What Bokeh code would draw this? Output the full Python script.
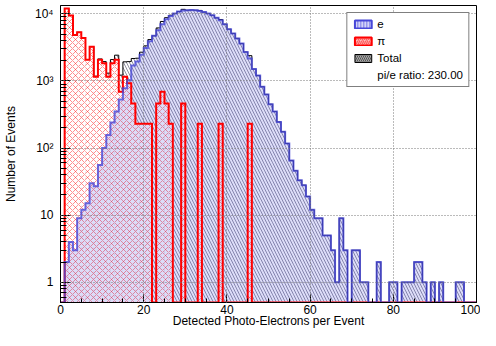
import numpy as np
from bokeh.plotting import figure
from bokeh.models import (ColumnDataSource, FixedTicker, Legend, LegendItem, Range1d)
from bokeh.embed import file_html
from bokeh.resources import INLINE

# ---------------- data ----------------
bin_edges = list(range(0, 101))          # 100 bins of width 1 p.e.

e_counts = [
    0, 2, 4, 3, 9, 12, 15, 30, 27, 56,
    100, 156, 240, 350, 530, 775, 1020, 1700, 1950, 2450,
    3100, 3900, 4700, 5700, 7000, 8300, 9300, 10100, 10800, 11200,
    11300, 11400, 11300, 11000, 10600, 10100, 9500, 8700, 8000, 7000,
    5900, 5100, 4300, 3600, 2700, 2150, 1500, 1200, 820, 630,
    450, 350, 245, 175, 117, 65, 46, 33, 28, 19,
    12, 9, 9, 5, 5, 3, 1, 9, 3, 0,
    3, 3, 1, 1, 0, 0, 2, 0, 0, 1,
    1, 0, 1, 1, 1, 2, 2, 1, 0, 1,
    0, 1, 0, 0, 0, 1, 1, 0, 0, 0,
]

pi_counts = [
    0, 11960, 9430, 4830, 5290, 4370, 2070, 3220, 1150, 2070,
    1840, 1150, 1840, 2070, 690, 1150, 920, 460, 230, 230,
    230, 230, 0, 460, 690, 460, 230, 0, 0, 460,
    0, 0, 0, 230, 0, 0, 0, 0, 230, 0,
    0, 0, 0, 0, 0, 230, 0, 0, 0, 0,
    0, 0, 0, 0, 0, 0, 0, 0, 0, 0,
    0, 0, 0, 0, 0, 0, 0, 0, 0, 0,
    0, 0, 0, 0, 0, 0, 0, 0, 0, 0,
    0, 0, 0, 0, 0, 0, 0, 0, 0, 0,
    0, 0, 0, 0, 0, 0, 0, 0, 0, 0,
]

pi_e_ratio = 230.00
legend_labels = ["e", "\u03c0", "Total", f"pi/e ratio: {pi_e_ratio:.2f}"]

x_tick_values = [0, 20, 40, 60, 80, 100]
y_tick_values = [1, 10, 100, 1000, 10000]
y_tick_labels = ["1", "10", "10\u00b2", "10\u00b3", "10\u2074"]

x_title = "Detected Photo-Electrons per Event"
y_title = "Number of Events"

# ---------------- figure ----------------
FONT = "Liberation Sans"
Y_LO, Y_HI = 0.5, 13300

p = figure(width=480, height=330, output_backend="svg", toolbar_location=None,
           x_range=Range1d(0, 100), y_range=Range1d(Y_LO, Y_HI), y_axis_type="log",
           min_border_left=54, min_border_right=4, min_border_top=5,
           min_border_bottom=0)
p.background_fill_color = "white"
p.border_fill_color = "white"
p.outline_line_color = "black"
p.outline_line_width = 1

edges = np.array(bin_edges, dtype=float)
e = np.array(e_counts, dtype=float)
pi = np.array(pi_counts, dtype=float)
tot = e + pi


def quads(vals):
    m = vals > 0
    return ColumnDataSource(dict(left=edges[:-1][m], right=edges[1:][m],
                                 top=vals[m], bottom=np.full(int(m.sum()), Y_LO)))


def outline(vals):
    v = np.where(vals > 0, vals, Y_LO)
    xs = np.repeat(edges, 2)
    ys = np.concatenate([[Y_LO], np.repeat(v, 2), [Y_LO]])
    return xs, ys


# Total (drawn first)
p.quad(left="left", right="right", top="top", bottom="bottom", source=quads(tot),
       fill_alpha=0, line_alpha=0, hatch_pattern="\\", hatch_color="#202040",
       hatch_alpha=0.5, hatch_scale=6, hatch_weight=1)
xt, yt = outline(tot)
p.line(xt, yt, line_color="black", line_width=1, line_join="miter")

# pi
p.quad(left="left", right="right", top="top", bottom="bottom", source=quads(pi),
       fill_color="white", fill_alpha=1, line_alpha=0, hatch_pattern="x",
       hatch_color="#ff2020", hatch_alpha=0.5, hatch_scale=6, hatch_weight=1)

# e
p.quad(left="left", right="right", top="top", bottom="bottom", source=quads(e),
       fill_color="#6060e0", fill_alpha=0.22, line_alpha=0)

xp, yp = outline(pi)
p.line(xp, yp, line_color="#ff0000", line_width=2, line_join="miter")
xe, ye = outline(e)
p.line(xe, ye, line_color="#4646d8", line_width=2, line_alpha=0.8, line_join="miter")

# ---------------- axes ----------------
p.xaxis.ticker = FixedTicker(ticks=x_tick_values, minor_ticks=list(range(0, 101, 5)))
p.yaxis.ticker = FixedTicker(
    ticks=y_tick_values,
    minor_ticks=[m * 10.0 ** k for k in range(-1, 5) for m in range(2, 10)
                 if Y_LO <= m * 10.0 ** k <= Y_HI])
p.yaxis.major_label_overrides = dict(zip(y_tick_values, y_tick_labels))

for ax in (p.xaxis[0], p.yaxis[0]):
    ax.axis_line_color = "black"
    ax.major_tick_line_color = "black"
    ax.minor_tick_line_color = "black"
    ax.major_tick_out = 0
    ax.minor_tick_out = 0
    ax.major_label_text_font = FONT
    ax.major_label_text_font_size = "12px"
    ax.major_label_text_color = "black"
    ax.axis_label_text_font = FONT
    ax.axis_label_text_font_size = "12px"
    ax.axis_label_text_font_style = "normal"
    ax.axis_label_text_color = "black"

p.xaxis.major_tick_in = 8
p.xaxis.minor_tick_in = 4
p.yaxis.major_tick_in = 10
p.yaxis.minor_tick_in = 6
p.xaxis.major_label_standoff = 2
p.yaxis.major_label_standoff = 7
p.xaxis.axis_label = x_title
p.yaxis.axis_label = y_title
p.xaxis.axis_label_standoff = -3
p.yaxis.axis_label_standoff = 14

for g in (p.xgrid[0], p.ygrid[0]):
    g.grid_line_color = "#777777"
    g.grid_line_dash = "1 2"
    g.grid_line_width = 1
    g.level = "guide"
p.ygrid.minor_grid_line_color = None

# ---------------- legend (swatch-only renderers, nothing drawn in the plot) ----------------
nan_src = lambda: ColumnDataSource(dict(left=[np.nan], right=[np.nan],
                                        top=[np.nan], bottom=[np.nan]))
r_e = p.quad(left="left", right="right", top="top", bottom="bottom",
             source=nan_src(), fill_color="#c0c0f4", fill_alpha=0.7,
             line_color="#4646d8", line_width=2, hatch_pattern="|",
             hatch_color="#5050e0", hatch_alpha=0.7, hatch_scale=3, hatch_weight=1)
r_pi = p.quad(left="left", right="right", top="top", bottom="bottom",
              source=nan_src(), fill_color="#ffc0c0", fill_alpha=0.6,
              line_color="#ff0000", line_width=2, hatch_pattern="/",
              hatch_color="#ff2020", hatch_scale=4, hatch_weight=1)
r_t = p.quad(left="left", right="right", top="top", bottom="bottom",
             source=nan_src(), fill_alpha=0, line_color="black",
             line_width=1, hatch_pattern="\\", hatch_color="black", hatch_scale=4,
             hatch_weight=1)
r_txt = p.quad(left="left", right="right", top="top", bottom="bottom",
               source=nan_src(), fill_alpha=0, line_alpha=0)

legend = Legend(items=[LegendItem(label=lab, renderers=[r])
                       for lab, r in zip(legend_labels, [r_e, r_pi, r_t, r_txt])],
                location="top_right", orientation="vertical")
legend.label_text_font = FONT
legend.label_text_font_size = "11.5px"
legend.label_text_color = "black"
legend.glyph_width = 21
legend.glyph_height = 10
legend.label_height = 10
legend.label_standoff = 4
legend.spacing = 5
legend.padding = 5
legend.margin = 7
legend.border_line_color = "black"
legend.border_line_width = 1
legend.background_fill_color = "white"
legend.background_fill_alpha = 1
p.add_layout(legend, "center")

open("out.html", "w").write(file_html(p, INLINE))
